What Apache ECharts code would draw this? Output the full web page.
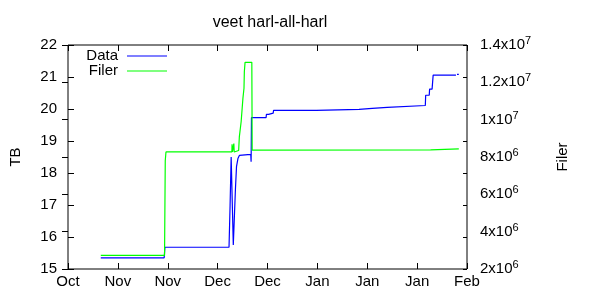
<!DOCTYPE html>
<html>
<head>
<meta charset="utf-8">
<script src="https://cdn.jsdelivr.net/npm/echarts@6/dist/echarts.min.js"></script>
<style>html,body{margin:0;padding:0;background:#fff}#c{width:600px;height:300px}</style>
</head>
<body>
<div id="c"></div>
<script>
// x values are days from the first tick (ticks every 14 days)
const xTickLabels = ['Oct','Nov','Nov','Dec','Dec','Jan','Jan','Jan','Feb'];

const dataDays = [9.2,18.0,18.1,18.4,18.5,27.0,27.2,45.2,45.5,45.8,46.2,46.4,46.6,47.0,47.3,47.7,48.1,48.6,51.3,51.4,51.5,55.6,55.7,56.3,56.4,57.6,57.7,69.7,69.8,81.7,81.8,85.4,85.5,89.6,89.7,100.3,100.4,101.4,101.5,102.2,102.5,108.9,109.0,109.2,109.7];
const dataTB   = [15.35,15.35,15.37,15.37,15.35,15.35,15.68,15.68,17.0,18.5,18.5,15.75,15.78,17.5,18.2,18.45,18.55,18.58,18.58,18.35,19.73,19.73,19.83,19.83,19.87,19.87,19.96,19.96,19.99,19.99,20.02,20.02,20.05,20.05,20.11,20.11,20.43,20.43,20.62,20.62,21.06,21.06,null,21.08,21.08];

const filerDays = [9.2,27.1,27.3,27.5,46.0,46.05,46.15,46.5,46.55,46.65,47.9,48.1,48.6,49.1,49.4,49.5,49.7,51.6,51.7,101.8,101.9,109.7];
const filerVal  = [2.73e6,2.73e6,7.8e6,8.27e6,8.27e6,8.68e6,8.27e6,8.27e6,8.72e6,8.27e6,8.35e6,9.09e6,9.89e6,11.14e6,11.68e6,12.57e6,13.07e6,13.07e6,8.37e6,8.38e6,8.44e6,8.44e6];

const seriesNames = ['Data', 'Filer'];
const seriesColors = ['#0000ff', '#00ff00'];

const FONT = 'Liberation Sans';
const chart = echarts.init(document.getElementById('c'), null, {renderer: 'canvas'});

function sci(v){
  const e = Math.floor(Math.log10(v) + 1e-9);
  const m = +(v / Math.pow(10, e)).toFixed(1);
  return m + 'x10{sup|' + e + '}';
}

const tickStyle = {show: true, inside: true, length: 6, lineStyle: {color: '#000', width: 1}};

// gnuplot-style key: text right-aligned, line sample to its right
const legendGraphic = [];
seriesNames.forEach((n, i) => {
  const y = 56 + i * 15;
  legendGraphic.push({type: 'text', x: 118, y: y, style: {text: n, font: '15px "' + FONT + '"', fill: '#000', align: 'right', verticalAlign: 'middle'}});
  legendGraphic.push({type: 'line', shape: {x1: 127, y1: y, x2: 167, y2: y}, style: {stroke: seriesColors[i], lineWidth: 1.2}});
});

chart.setOption({
  animation: false,
  textStyle: {fontFamily: FONT},
  title: {
    text: 'veet harl-all-harl', left: 265, top: 10, textAlign: 'center',
    textStyle: {fontFamily: FONT, fontSize: 16, fontWeight: 'normal', color: '#000'}
  },
  graphic: legendGraphic,
  grid: {left: 65, right: 133, top: 45, bottom: 31, show: true, borderColor: '#000', borderWidth: 1, backgroundColor: 'transparent'},
  xAxis: [{
    type: 'value', min: 0, max: 112, interval: 14, position: 'bottom',
    axisLine: {show: false}, axisTick: tickStyle, splitLine: {show: false},
    axisLabel: {margin: 5, fontFamily: FONT, fontSize: 15, color: '#000', showMinLabel: true, showMaxLabel: true,
      formatter: v => xTickLabels[Math.round(v / 14)]}
  }, {
    type: 'value', min: 0, max: 112, interval: 14, position: 'top',
    axisLine: {show: false}, axisTick: tickStyle, splitLine: {show: false}, axisLabel: {show: false}
  }],
  yAxis: [{
    type: 'value', min: 15, max: 22, interval: 1, position: 'left',
    name: 'TB', nameLocation: 'middle', nameGap: 45,
    nameTextStyle: {fontFamily: FONT, fontSize: 15, color: '#000'},
    axisLine: {show: false}, axisTick: tickStyle, splitLine: {show: false},
    axisLabel: {margin: 11, fontFamily: FONT, fontSize: 15, color: '#000'}
  }, {
    type: 'value', min: 2e6, max: 1.4e7, interval: 2e6, position: 'right',
    name: 'Filer', nameLocation: 'middle', nameGap: 88, nameRotate: 90,
    nameTextStyle: {fontFamily: FONT, fontSize: 15, color: '#000'},
    axisLine: {show: false}, axisTick: tickStyle, splitLine: {show: false},
    axisLabel: {margin: 13, fontFamily: FONT, fontSize: 15, color: '#000', formatter: sci,
      rich: {sup: {fontFamily: FONT, fontSize: 11, color: '#000', padding: [0, 0, 8, 0]}}}
  }, {
    type: 'value', min: 15, max: 22, interval: 1, position: 'right',
    axisLine: {show: false}, axisTick: {show: true, inside: true, length: 4, lineStyle: {color: '#000'}},
    splitLine: {show: false}, axisLabel: {show: false}
  }],
  series: [{
    name: seriesNames[0], type: 'line', xAxisIndex: 0, yAxisIndex: 0, showSymbol: false, symbol: 'none',
    connectNulls: false,
    lineStyle: {color: seriesColors[0], width: 1.2}, itemStyle: {color: seriesColors[0]},
    data: dataDays.map((d, i) => [d, dataTB[i]])
  }, {
    name: seriesNames[1], type: 'line', xAxisIndex: 0, yAxisIndex: 1, showSymbol: false, symbol: 'none',
    lineStyle: {color: seriesColors[1], width: 1.2}, itemStyle: {color: seriesColors[1]},
    data: filerDays.map((d, i) => [d, filerVal[i]])
  }]
});
</script>
</body>
</html>
